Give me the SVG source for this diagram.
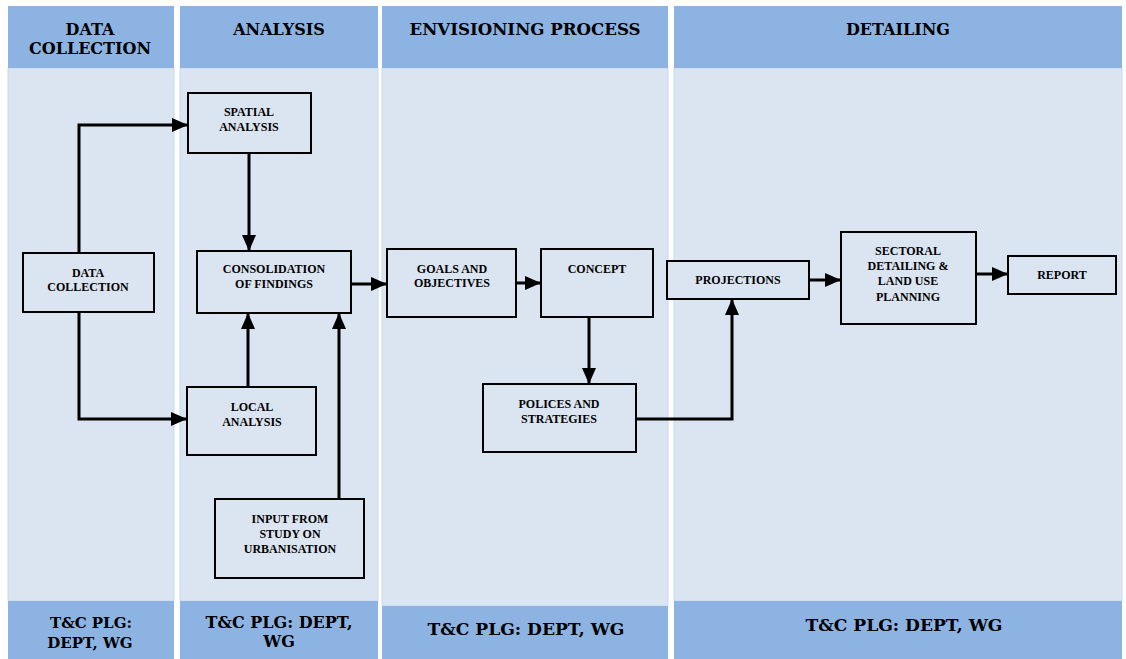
<svg xmlns="http://www.w3.org/2000/svg" width="1126" height="659" viewBox="0 0 1126 659">
<style>
.hdr{fill:#8DB3E2}
.body{fill:#DBE5F1;stroke:#C6D9F1;stroke-width:1}
.ht{font-family:"DejaVu Serif","Liberation Serif",serif;font-weight:bold;font-size:16px;fill:#000;text-anchor:middle}
.box{fill:#DBE5F1;stroke:#000;stroke-width:2}
.nt{font-family:"Liberation Serif","Times New Roman",serif;font-weight:bold;font-size:12px;fill:#000;text-anchor:middle}
.con{fill:none;stroke:#000;stroke-width:3;marker-end:url(#ah)}
</style>
<defs>
<marker id="ah" viewBox="0 0 16 14" refX="16" refY="7" markerWidth="16" markerHeight="14" markerUnits="userSpaceOnUse" orient="auto">
<path d="M0,0 L16,7 L0,14 z" fill="#000"/>
</marker>
</defs>
<rect width="1126" height="659" fill="#fff"/>
<g id="lanes">
<g id="lane-data-collection">
<rect class="body" x="8" y="68" width="166" height="533"/>
<rect class="hdr" x="8" y="6" width="166" height="62"/>
<rect class="hdr" x="8" y="601" width="166" height="58"/>
<text class="ht" x="90" y="35">DATA</text>
<text class="ht" x="90" y="54">COLLECTION</text>
<text class="ht" x="91" y="628" style="font-size:15px">T&amp;C PLG:</text>
<text class="ht" x="90" y="648" style="font-size:15px">DEPT, WG</text>
</g>
<g id="lane-analysis">
<rect class="body" x="180" y="68" width="198" height="533"/>
<rect class="hdr" x="180" y="6" width="198" height="62"/>
<rect class="hdr" x="180" y="601" width="198" height="58"/>
<text class="ht" x="279" y="35">ANALYSIS</text>
<text class="ht" x="279" y="628">T&amp;C PLG: DEPT,</text>
<text class="ht" x="279" y="647">WG</text>
</g>
<g id="lane-envisioning">
<rect class="body" x="382" y="68" width="286" height="538"/>
<rect class="hdr" x="382" y="6" width="286" height="62"/>
<rect class="hdr" x="382" y="606" width="286" height="53"/>
<text class="ht" x="525" y="35" textLength="231" lengthAdjust="spacingAndGlyphs">ENVISIONING PROCESS</text>
<text class="ht" x="526" y="635" textLength="197" lengthAdjust="spacingAndGlyphs">T&amp;C PLG: DEPT, WG</text>
</g>
<g id="lane-detailing">
<rect class="body" x="674" y="68" width="448" height="533"/>
<rect class="hdr" x="674" y="6" width="448" height="62"/>
<rect class="hdr" x="674" y="601" width="448" height="58"/>
<text class="ht" x="898" y="35">DETAILING</text>
<text class="ht" x="904" y="631" textLength="197" lengthAdjust="spacingAndGlyphs">T&amp;C PLG: DEPT, WG</text>
</g>
</g>
<g id="connectors">
<path class="con" d="M79,253 V125 H188"/>
<path class="con" d="M79,312 V419 H187"/>
<path class="con" d="M249,153 V251"/>
<path class="con" d="M248,387 V313"/>
<path class="con" d="M339,499 V313"/>
<path class="con" d="M351,284 H387"/>
<path class="con" d="M516,283 H541"/>
<path class="con" d="M589,317 V384"/>
<path class="con" d="M636,419 H732 V299"/>
<path class="con" d="M809,280 H841"/>
<path class="con" d="M976,274 H1008"/>
</g>
<g id="data-collection">
<rect class="box" x="23" y="253" width="131" height="59"/>
<text class="nt" x="88" y="277">DATA</text>
<text class="nt" x="88" y="291">COLLECTION</text>
</g>
<g id="spatial-analysis">
<rect class="box" x="188" y="93" width="123" height="60"/>
<text class="nt" x="249" y="116">SPATIAL</text>
<text class="nt" x="249" y="131">ANALYSIS</text>
</g>
<g id="consolidation">
<rect class="box" x="197" y="251" width="154" height="62"/>
<text class="nt" x="274" y="273">CONSOLIDATION</text>
<text class="nt" x="274" y="288">OF FINDINGS</text>
</g>
<g id="local-analysis">
<rect class="box" x="187" y="387" width="129" height="68"/>
<text class="nt" x="252" y="411">LOCAL</text>
<text class="nt" x="252" y="426">ANALYSIS</text>
</g>
<g id="input-study">
<rect class="box" x="215" y="499" width="149" height="79"/>
<text class="nt" x="290" y="523">INPUT FROM</text>
<text class="nt" x="290" y="538">STUDY ON</text>
<text class="nt" x="290" y="553">URBANISATION</text>
</g>
<g id="goals">
<rect class="box" x="387" y="249" width="129" height="68"/>
<text class="nt" x="452" y="273">GOALS AND</text>
<text class="nt" x="452" y="287">OBJECTIVES</text>
</g>
<g id="concept">
<rect class="box" x="541" y="249" width="112" height="68"/>
<text class="nt" x="597" y="273">CONCEPT</text>
</g>
<g id="polices">
<rect class="box" x="483" y="384" width="153" height="68"/>
<text class="nt" x="559" y="408">POLICES AND</text>
<text class="nt" x="559" y="423">STRATEGIES</text>
</g>
<g id="projections">
<rect class="box" x="667" y="261" width="142" height="38"/>
<text class="nt" x="738" y="284">PROJECTIONS</text>
</g>
<g id="sectoral">
<rect class="box" x="841" y="232" width="135" height="92"/>
<text class="nt" x="908" y="255">SECTORAL</text>
<text class="nt" x="908" y="270">DETAILING &amp;</text>
<text class="nt" x="908" y="285">LAND USE</text>
<text class="nt" x="908" y="301">PLANNING</text>
</g>
<g id="report">
<rect class="box" x="1008" y="256" width="108" height="38"/>
<text class="nt" x="1062" y="279">REPORT</text>
</g>
</svg>
